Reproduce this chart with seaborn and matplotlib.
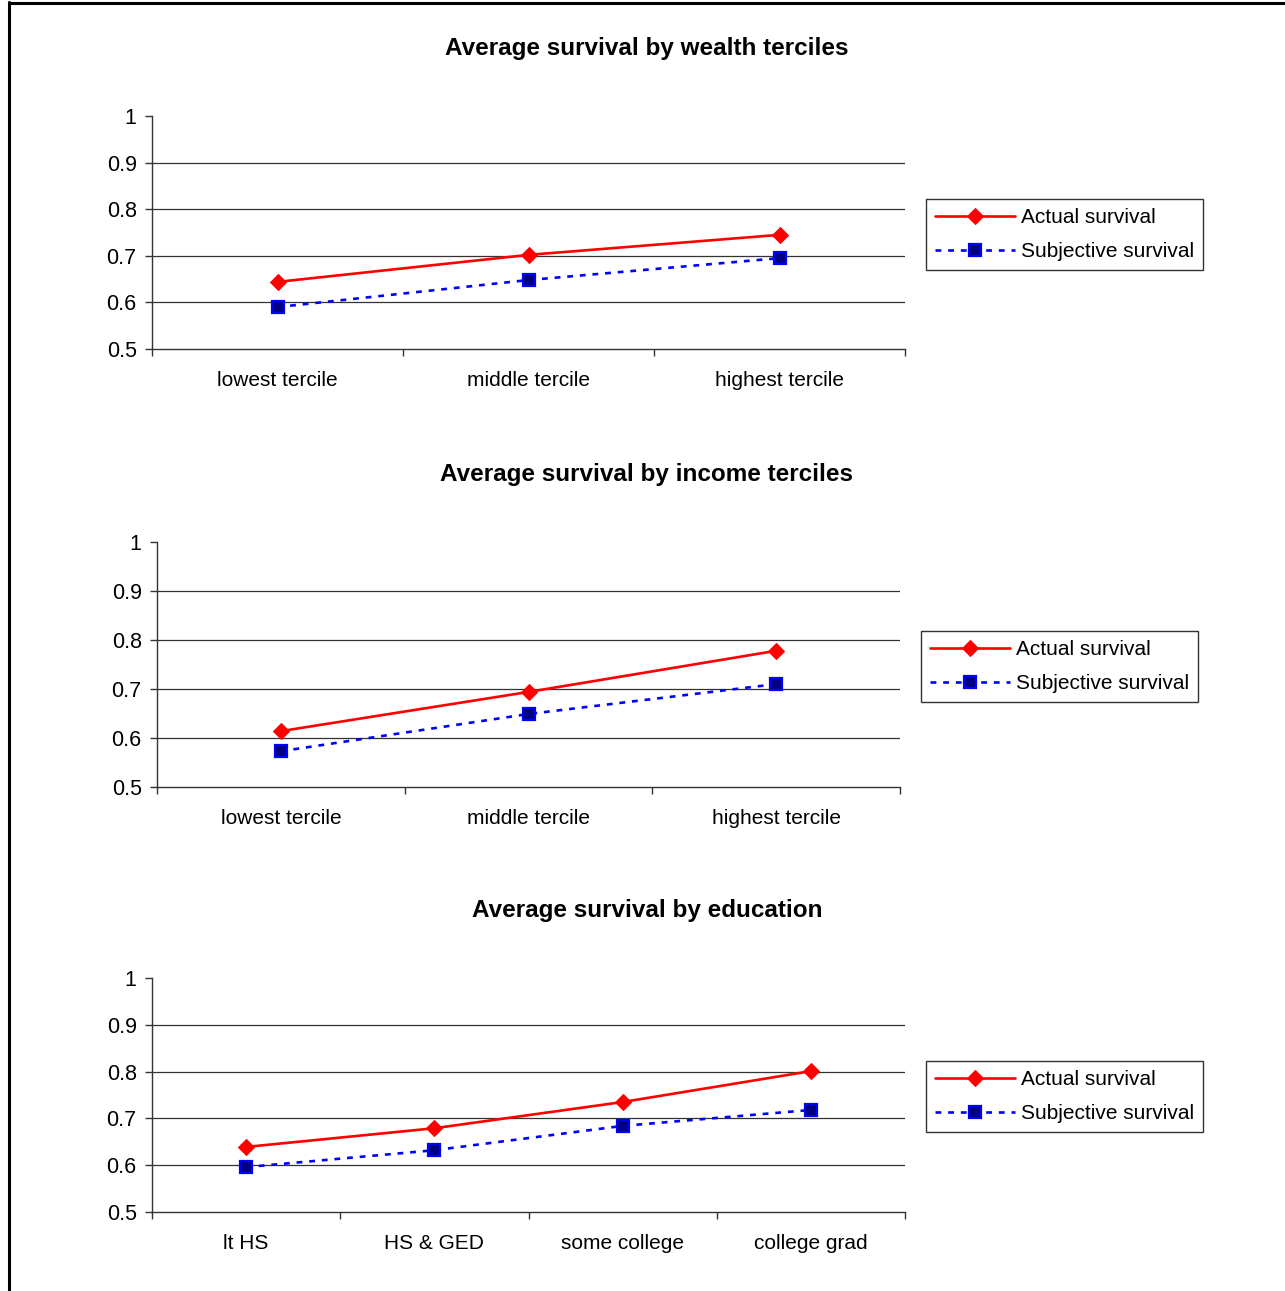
import pandas as pd
import seaborn as sns
import matplotlib.pyplot as plt
from matplotlib.lines import Line2D

# data
TERCILES = ["lowest tercile", "middle tercile", "highest tercile"]
EDUCATION = ["lt HS", "HS & GED", "some college", "college grad"]

wealth_actual = [0.644, 0.702, 0.745]
wealth_subjective = [0.590, 0.648, 0.695]
income_actual = [0.614, 0.694, 0.778]
income_subjective = [0.573, 0.649, 0.710]
edu_actual = [0.639, 0.679, 0.735, 0.801]
edu_subjective = [0.596, 0.632, 0.684, 0.718]

TITLES = ["Average survival by wealth terciles",
          "Average survival by income terciles",
          "Average survival by education"]

W, H = 1285, 1291

# pixel boxes: left, right, top(1.0), bottom(0.5), title y, legend left, legend top
PANELS = [
    (152, 905, 116, 349, 49, 926, 199),
    (157, 900, 542, 787, 474, 921, 631),
    (152, 905, 978, 1212, 911, 926, 1061),
]

sns.set_theme(style="white")
plt.rcParams['font.family'] = ['Liberation Sans', 'DejaVu Sans']

fig = plt.figure(figsize=(W / 100, H / 100), dpi=100)

# frame of the original page (only left and top edges visible)
fig.add_artist(Line2D([9 / W, 9 / W], [0, 1 - 2 / H], color="black", lw=2.2))
fig.add_artist(Line2D([9 / W, 1], [1 - 3 / H, 1 - 3 / H], color="black", lw=2.2))

datasets = [
    (TERCILES, wealth_actual, wealth_subjective),
    (TERCILES, income_actual, income_subjective),
    (EDUCATION, edu_actual, edu_subjective),
]

for (cats, act, subj), title, box in zip(datasets, TITLES, PANELS):
    l, r, t, b, ty, lx, ly = box
    ax = fig.add_axes([l / W, 1 - b / H, (r - l) / W, (b - t) / H])
    df = pd.DataFrame({"cat": cats, "actual": act, "subjective": subj})
    sns.lineplot(data=df, x="cat", y="actual", ax=ax, color="red", lw=1.9,
                 marker="D", markersize=8, markeredgecolor="red",
                 label="Actual survival", sort=False)
    sns.lineplot(data=df, x="cat", y="subjective", ax=ax, color="blue", lw=1.9,
                 marker="s", markersize=9, markerfacecolor="#000080",
                 markeredgecolor="blue", markeredgewidth=1.6,
                 linestyle=(0, (2.2, 2.6)), label="Subjective survival", sort=False)
    n = len(cats)
    ax.set_xlim(-0.5, n - 0.5)
    ax.set_ylim(0.5, 1.0)
    ax.set_yticks([0.5, 0.6, 0.7, 0.8, 0.9, 1.0])
    ax.set_yticklabels(["0.5", "0.6", "0.7", "0.8", "0.9", "1"])
    ax.set_xticks(range(n))
    ax.set_xticklabels(cats)
    ax.set_xticks([i - 0.5 for i in range(n + 1)], minor=True)
    ax.tick_params(axis="x", which="major", length=0, pad=16, labelsize=15,
                   labelcolor="black")
    ax.tick_params(axis="x", which="minor", length=5, width=1, color="#333333",
                   direction="out", bottom=True)
    ax.tick_params(axis="y", length=5, width=1, color="#333333", direction="out",
                   left=True, pad=6, labelsize=15.5, labelcolor="black")
    for yv in [0.6, 0.7, 0.8, 0.9]:
        ax.axhline(yv, color="#333333", lw=0.9, zorder=0)
    ax.set_xlabel("")
    ax.set_ylabel("")
    for s in ["top", "right"]:
        ax.spines[s].set_visible(False)
    for s in ["left", "bottom"]:
        ax.spines[s].set_color("#333333")
        ax.spines[s].set_linewidth(1)
    ax.get_legend().remove()
    fig.text(647 / W, 1 - ty / H, title, ha="center", va="center",
             fontsize=17.5, fontweight="bold", color="black")
    handles, labels = ax.get_legend_handles_labels()
    leg = fig.legend(handles, labels, loc="upper left",
                     bbox_to_anchor=(lx / W, 1 - ly / H), fontsize=15,
                     frameon=True, fancybox=False, edgecolor="black",
                     handlelength=3.8, handletextpad=0.3, borderpad=0.45,
                     labelspacing=0.7, borderaxespad=0)
    leg.get_frame().set_linewidth(1)
    for txt in leg.get_texts():
        txt.set_color("black")

fig.savefig("out.png", dpi=100, facecolor="white")
